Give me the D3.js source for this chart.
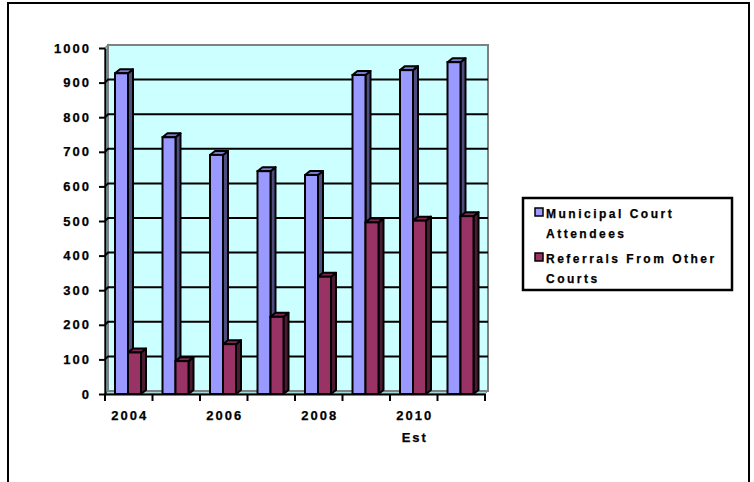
<!DOCTYPE html>
<html>
<head>
<meta charset="utf-8">
<script src="https://cdnjs.cloudflare.com/ajax/libs/d3/7.8.5/d3.min.js"></script>
<style>
  body { margin: 0; background: #fff; }
  svg { display: block; }
  text { font-family: Arial, "Liberation Sans", sans-serif; font-weight: bold; fill: #000; stroke: #000; stroke-width: 0.25px; }
</style>
</head>
<body>
<svg width="754" height="482"></svg>
<script>
// chart data
var years = ["2004", "2005", "2006", "2007", "2008", "2009", "2010 Est", "2011 Est"];
var seriesNames = ["Municipal Court Attendees", "Referrals From Other Courts"];
var attendees = [927, 742, 691, 644, 633, 922, 936, 959];
var referrals = [120, 95, 144, 223, 339, 496, 501, 514];
var yTicks = [0, 100, 200, 300, 400, 500, 600, 700, 800, 900, 1000];

var svg = d3.select("svg");
var colors = [
  { front: "#9999ff", side: "#4d4d80", top: "#7a7acc" },
  { front: "#993366", side: "#4d1a33", top: "#7a2952" }
];
var dx = 5, dy = -4;     // bar depth
var wx = 3, wy = -3;     // wall depth

var x = d3.scaleBand().domain(years).range([105, 485]);
var xs = d3.scaleBand().domain(seriesNames).range([10, 36]);
var y = d3.scaleLinear().domain([0, 1000]).range([394, 48]);

// outer frame
svg.append("rect").attr("x", 8).attr("y", 3).attr("width", 741).attr("height", 490)
  .attr("fill", "#fff").attr("stroke", "#000").attr("stroke-width", 2);

var x0 = x.range()[0], x1 = x.range()[1];
// side wall, floor and back wall
svg.append("polygon")
  .attr("points", [[x0, y(0)], [x0, y(1000)], [x0 + wx, y(1000) + wy], [x0 + wx, y(0) + wy]].join(" "))
  .attr("fill", "#ccffff").attr("stroke", "#808080").attr("stroke-width", 1.5);
svg.append("polygon")
  .attr("points", [[x0, y(0)], [x0 + wx, y(0) + wy], [x1 + wx, y(0) + wy], [x1, y(0)]].join(" "))
  .attr("fill", "#a6d9d9").attr("stroke", "#808080").attr("stroke-width", 1);
svg.append("rect")
  .attr("x", x0 + wx).attr("y", y(1000) + wy)
  .attr("width", x1 - x0).attr("height", y(0) - y(1000))
  .attr("fill", "#ccffff").attr("stroke", "#808080").attr("stroke-width", 2);

// gridlines
var grid = svg.append("g").attr("stroke", "#000").attr("stroke-width", 2).attr("fill", "none");
yTicks.filter(function(d) { return d > 0 && d < 1000; }).forEach(function(d) {
  grid.append("path")
    .attr("d", "M" + x0 + "," + y(d) + "L" + (x0 + wx) + "," + (y(d) + wy) + "H" + (x1 + wx));
});

// bars
var data = years.map(function(yr, i) { return { year: yr, vals: [attendees[i], referrals[i]] }; });
var groups = svg.append("g").selectAll("g").data(data).enter().append("g");
groups.each(function(d) {
  var g = d3.select(this);
  d.vals.forEach(function(v, s) {
    var bx = x(d.year) + xs(seriesNames[s]);
    var bw = xs.bandwidth();
    var top = y(v), bot = y(0);
    var c = colors[s];
    g.append("polygon")
      .attr("points", [[bx + bw, bot], [bx + bw, top], [bx + bw + dx, top + dy], [bx + bw + dx, bot + dy]].join(" "))
      .attr("fill", c.side).attr("stroke", "#000").attr("stroke-width", 2).attr("stroke-linejoin", "round");
    g.append("polygon")
      .attr("points", [[bx, top], [bx + dx, top + dy], [bx + bw + dx, top + dy], [bx + bw, top]].join(" "))
      .attr("fill", c.top).attr("stroke", "#000").attr("stroke-width", 2).attr("stroke-linejoin", "round");
    g.append("rect")
      .attr("x", bx).attr("y", top).attr("width", bw).attr("height", bot - top)
      .attr("fill", c.front).attr("stroke", "#000").attr("stroke-width", 2);
  });
});

// y axis
var yAxis = svg.append("g").attr("transform", "translate(" + x0 + ",0)")
  .call(d3.axisLeft(y).tickValues(yTicks).tickFormat(d3.format("d"))
    .tickSize(6).tickPadding(10).tickSizeOuter(0));
yAxis.select(".domain").attr("stroke", "#000").attr("stroke-width", 2);
yAxis.selectAll(".tick line").attr("stroke", "#000").attr("stroke-width", 2);
yAxis.selectAll(".tick text").attr("font-size", 13).attr("letter-spacing", "2px")
  .attr("font-family", "Arial, 'Liberation Sans', sans-serif").attr("font-weight", "bold")
  .attr("dx", "2px");

// x axis
var xAxis = svg.append("g").attr("transform", "translate(0," + y(0) + ")")
  .call(d3.axisBottom(x).tickSize(0).tickFormat(""));
xAxis.select(".domain").attr("stroke", "#000").attr("stroke-width", 2);
xAxis.selectAll(".tick").remove();
xAxis.selectAll(".sep").data(x.domain().concat(["end"])).enter().append("line")
  .attr("class", "sep")
  .attr("x1", function(d) { return d === "end" ? x1 : x(d); })
  .attr("x2", function(d) { return d === "end" ? x1 : x(d); })
  .attr("y1", 0).attr("y2", 7)
  .attr("stroke", "#000").attr("stroke-width", 2);

var labels = svg.append("g").selectAll("text")
  .data(years.filter(function(d, i) { return i % 2 === 0; }))
  .enter().append("text")
  .attr("x", function(d) { return x(d) + x.bandwidth() / 2 + 1; })
  .attr("y", 420)
  .attr("text-anchor", "middle")
  .attr("font-size", 13).attr("letter-spacing", "2px");
labels.each(function(d) {
  var t = d3.select(this);
  d.split(" ").forEach(function(w, i) {
    t.append("tspan").attr("x", t.attr("x")).attr("dy", i ? 22 : 0).text(w);
  });
});

// legend
var legend = svg.append("g");
legend.append("rect").attr("x", 523).attr("y", 198).attr("width", 209).attr("height", 92)
  .attr("fill", "#fff").attr("stroke", "#000").attr("stroke-width", 2.5);
var legendLines = [["Municipal Court", "Attendees"], ["Referrals From Other", "Courts"]];
legendLines.forEach(function(lines, s) {
  var top = 208 + s * 45;
  legend.append("rect").attr("x", 535).attr("y", top).attr("width", 8).attr("height", 8)
    .attr("fill", colors[s].front).attr("stroke", "#000").attr("stroke-width", 1.5);
  lines.forEach(function(l, j) {
    legend.append("text").attr("x", 546).attr("y", top + 10 + j * 20)
      .attr("font-size", 12).attr("letter-spacing", "2.5px").text(l);
  });
});
</script>
</body>
</html>
